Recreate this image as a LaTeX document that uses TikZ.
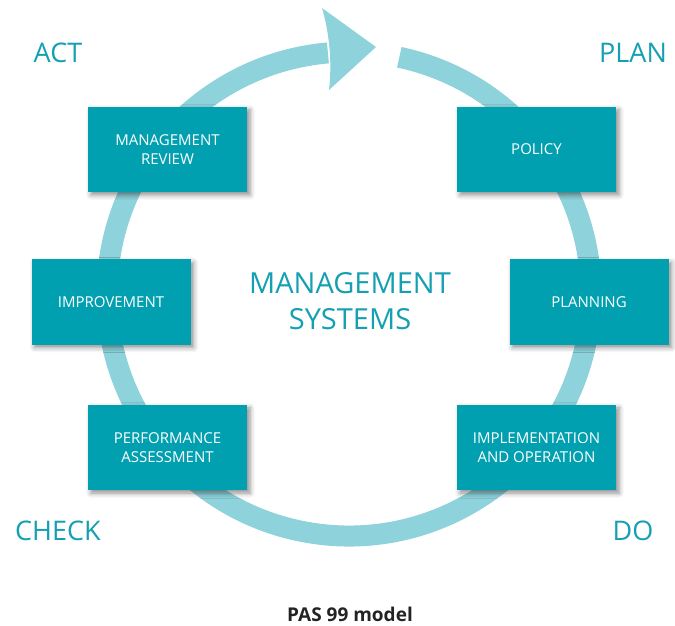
\documentclass[tikz,border=0pt]{standalone}
\usepackage{fontspec}
\setmainfont{Open Sans}
\usetikzlibrary{calc,shadows.blur}
\definecolor{boxteal}{RGB}{0,160,176}
\definecolor{ringteal}{RGB}{142,210,219}
\definecolor{labteal}{RGB}{20,160,178}
\definecolor{captgray}{RGB}{35,35,35}
\tikzset{
  stagebox/.style={fill=boxteal, minimum width=159pt, minimum height=85pt, inner sep=0pt,
    text=white, align=center, font=\fontsize{15}{19}\selectfont,
    blur shadow={shadow xshift=3pt, shadow yshift=-3pt, shadow blur radius=5pt, shadow opacity=45}},
  phase/.style={text=labteal, font=\fontsize{27}{30}\selectfont, inner sep=0pt},
  ring/.style={draw=ringteal, line width=21pt},
}
\begin{document}
\begin{tikzpicture}[x=1pt, y=1pt]
\useasboundingbox (0,0) rectangle (675,625);
% ring
\coordinate (c) at (349,331);
\draw[ring] ($(c)+(78:242)$) arc[start angle=78, end angle=-265, radius=242];
% arrow head
\fill[ringteal] (322,617) .. controls (330,590) and (332,560) .. (329,535) -- (376,578) -- cycle;
% boxes
\node[stagebox] (mr) at (167.5,475.5) {MANAGEMENT\\REVIEW};
\node[stagebox] (pol) at (536.5,475.5) {POLICY};
\node[stagebox] (imp) at (111,323) {IMPROVEMENT};
\node[stagebox] (pla) at (589,323) {PLANNING};
\node[stagebox] (pa) at (167.5,177.5) {PERFORMANCE\\ASSESSMENT};
\node[stagebox] (io) at (536.5,177.5) {IMPLEMENTATION\\AND OPERATION};
% centre
\node[text=labteal, align=center, font=\fontsize{29}{36}\selectfont] (ms) at (350,324) {MANAGEMENT\\SYSTEMS};
% phases
\node[phase] (act) at (58,572) {ACT};
\node[phase] (plan) at (633,572) {PLAN};
\node[phase] (check) at (58,94) {CHECK};
\node[phase] (do) at (633,94) {DO};
% caption
\node[text=captgray, font=\bfseries\fontsize{19}{22}\selectfont] (cap) at (350,11) {PAS 99 model};
\end{tikzpicture}
\end{document}
